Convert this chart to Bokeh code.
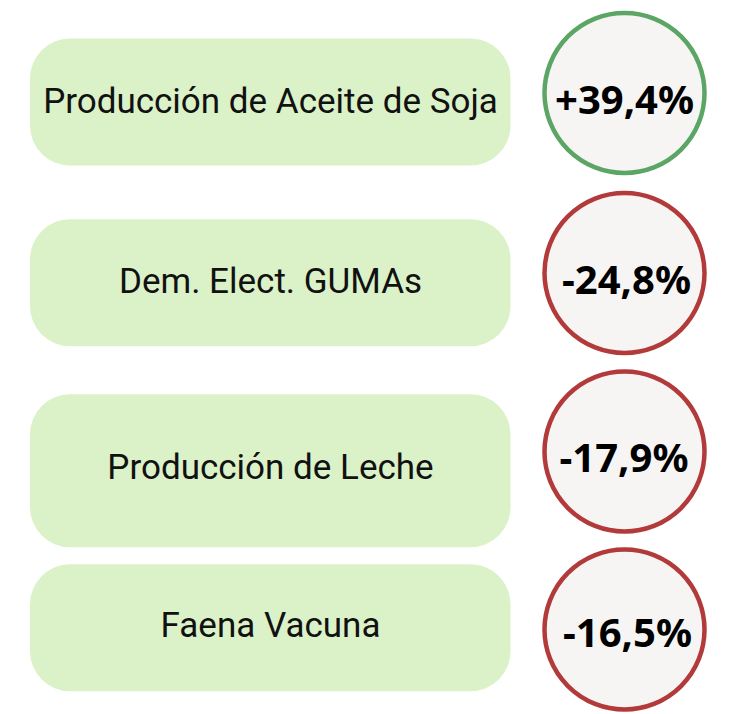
from bokeh.plotting import figure
from bokeh.models import Range1d, ColumnDataSource
from bokeh.core.properties import value
from bokeh.embed import file_html
from bokeh.resources import INLINE

# ---- data ----
labels = ["Producción de Aceite de Soja", "Dem. Elect. GUMAs", "Producción de Leche", "Faena Vacuna"]
changes = [39.4, -24.8, -17.9, -16.5]

def fmt(v):
    return f"{v:+.1f}%".replace(".", ",")

value_texts = [fmt(v) for v in changes]

# ---- layout (pixel-like data units) ----
row_center = [101.5, 282.3, 470.3, 627.3]
row_height = [127, 127, 153, 127]
label_dy = [-1, -1, -3, -2]
circle_y = [92.5, 272.5, 451, 629]
value_dx = [0, 2, -0.5, 3]
value_dy = [5.5, 5.5, 5, 2]
box_left, box_right = 29.5, 510
label_x = 270
circle_x = 624

pos_color = "#5BA565"
neg_color = "#B23A3A"
ring_colors = [pos_color if v > 0 else neg_color for v in changes]

boxes = ColumnDataSource(dict(
    left=[box_left] * 4, right=[box_right] * 4,
    top=[c - h / 2 for c, h in zip(row_center, row_height)],
    bottom=[c + h / 2 for c, h in zip(row_center, row_height)],
    lx=[label_x] * 4, ly=[c + d for c, d in zip(row_center, label_dy)], label=labels,
))
circles = ColumnDataSource(dict(
    x=[circle_x] * 4, y=circle_y, color=ring_colors,
    tx=[circle_x + d for d in value_dx], ty=[y + d for y, d in zip(circle_y, value_dy)],
    txt=value_texts,
))

p = figure(width=731, height=714, output_backend="svg", toolbar_location=None,
           x_range=Range1d(0, 731), y_range=Range1d(714, 0),
           x_axis_location=None, y_axis_location=None, min_border=0)
p.grid.visible = False
p.outline_line_color = None
p.background_fill_color = "white"
p.border_fill_color = "white"

p.quad(left="left", right="right", top="top", bottom="bottom", source=boxes,
       fill_color="#DBF2C8", line_color=None, border_radius=40)
p.text(x="lx", y="ly", text="label", source=boxes, text_align="center",
       text_baseline="alphabetic", text_font=value("Roboto"), text_font_size="35px",
       text_color="#111111")

p.circle(x="x", y="y", radius=80, source=circles, fill_color="#F7F5F3",
         line_color="color", line_width=4.5)
p.text(x="tx", y="ty", text="txt", source=circles, text_align="center",
       text_baseline="alphabetic", text_font=value("Noto Sans"), text_font_size="40px",
       text_font_style="bold", text_color="#000000")

open("out.html", "w").write(file_html(p, INLINE))
